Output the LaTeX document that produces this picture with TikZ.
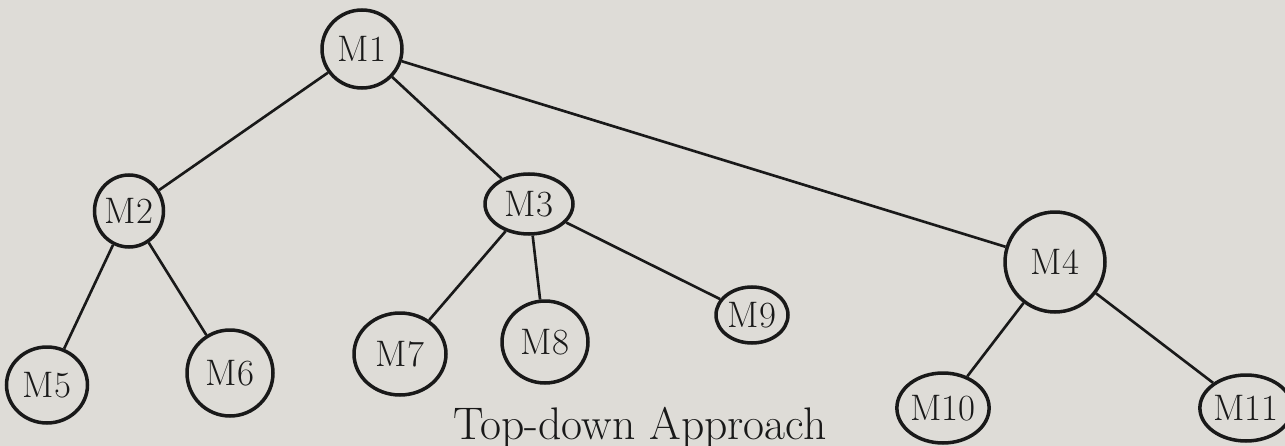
\documentclass[tikz,border=0pt]{standalone}
\usetikzlibrary{shapes.geometric}
\definecolor{paper}{RGB}{222,220,215}
\definecolor{ink}{RGB}{25,25,25}
\begin{document}
\begin{tikzpicture}[x=0.02cm,y=-0.02cm,
  mod/.style={draw=ink,ellipse,line width=2pt,inner sep=0pt,text=ink,
    font=\fontsize{21}{25}\selectfont},
  link/.style={draw=ink,line width=1.5pt}]
\fill[paper] (0,0) rectangle (1285,446);
\useasboundingbox (0,0) rectangle (1285,446);
\node[mod,minimum width=1.6cm,minimum height=1.56cm] (m1) at (362,49) {M1};
\node[mod,minimum width=1.38cm,minimum height=1.44cm] (m2) at (129,211) {M2};
\node[mod,minimum width=1.76cm,minimum height=1.2cm] (m3) at (529,204) {M3};
\node[mod,minimum width=2.0cm,minimum height=2.0cm] (m4) at (1055,262) {M4};
\node[mod,minimum width=1.62cm,minimum height=1.52cm] (m5) at (47,385) {M5};
\node[mod,minimum width=1.72cm,minimum height=1.72cm] (m6) at (230,373) {M6};
\node[mod,minimum width=1.84cm,minimum height=1.64cm] (m7) at (400,354) {M7};
\node[mod,minimum width=1.72cm,minimum height=1.64cm] (m8) at (545,342) {M8};
\node[mod,minimum width=1.44cm,minimum height=1.12cm] (m9) at (752,315) {M9};
\node[mod,minimum width=1.8cm,minimum height=1.4cm] (m10) at (943,408) {M10};
\node[mod,minimum width=1.52cm,minimum height=1.32cm] (m11) at (1246,408) {M11};
\node[text=ink,font=\fontsize{26}{30}\selectfont] (cap) at (640,428) {Top-down Approach};
\draw[link] (m1) -- (m2);
\draw[link] (m1) -- (m3);
\draw[link] (m1) -- (m4);
\draw[link] (m2) -- (m5);
\draw[link] (m2) -- (m6);
\draw[link] (m3) -- (m7);
\draw[link] (m3) -- (m8);
\draw[link] (m3) -- (m9);
\draw[link] (m4) -- (m10);
\draw[link] (m4) -- (m11);
\end{tikzpicture}
\end{document}
